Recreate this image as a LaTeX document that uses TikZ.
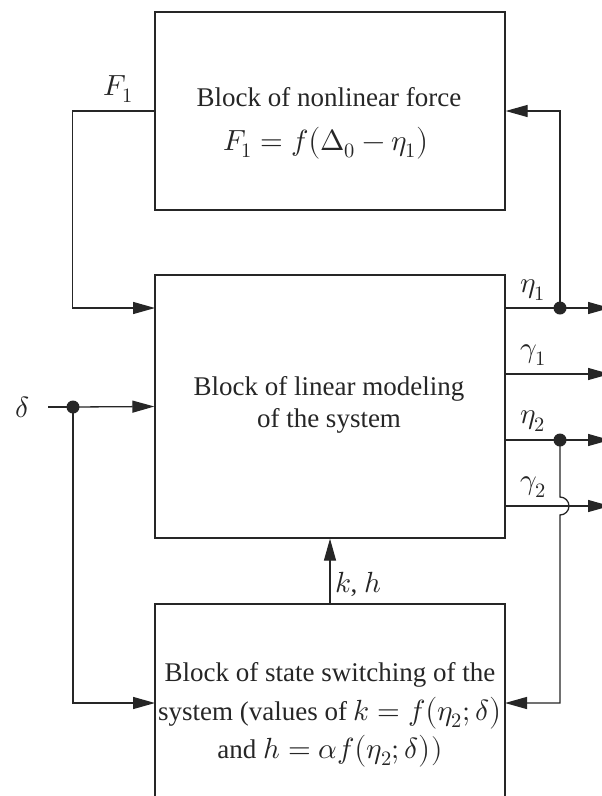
\documentclass[tikz,border=0pt]{standalone}
\usepackage{fontspec}
\usepackage{unicode-math}
\setmainfont{Liberation Serif}
\setmathfont{Latin Modern Math}[Scale=1.08]
\usetikzlibrary{arrows.meta}
\definecolor{ink}{HTML}{262626}
\tikzset{
  blk/.style={draw=ink, line width=1.3pt, minimum width=350pt, inner sep=0pt, rectangle},
  wire/.style={draw=ink, line width=1.3pt},
  arr/.style={wire, -{Triangle[length=22pt,width=12pt]}},
  jdot/.style={circle, fill=ink, minimum size=13pt, inner sep=0pt},
  txt/.style={text=ink, font=\fontsize{27}{32}\selectfont, inner sep=0pt},
}
\begin{document}
\begin{tikzpicture}[x=1pt,y=-1pt]
\useasboundingbox (0,0) rectangle (602,796);
\clip (0,0) rectangle (602,796);
\fill[white] (0,0) rectangle (602,796);
% blocks
\node[blk, minimum height=198pt] (top) at (330,111) {};
\node[blk, minimum height=263pt] (mid) at (330,406.5) {};
\node[blk, minimum height=220pt] (bot) at (330,714) {};
% texts
\node[txt] (t1) at (329,97) {Block of nonlinear force};
\node[txt] (t2) at (326,143) {$F_1 = f\bigl(\Delta_0 - \eta_1\bigr)$};
\node[txt] (m1) at (329,389) {Block of linear modeling};
\node[txt] (m2) at (329,421) {of the system};
\node[txt] (b1) at (330,675) {Block of state switching of the};
\node[txt] (b2) at (330,713) {system (values of $k = f\bigl(\eta_2;\delta\bigr)$};
\node[txt] (b3) at (330,751) {and $h = \alpha f\bigl(\eta_2;\delta\bigr))$};
% labels
\node[txt] (lF) at (118,89) {$F_1$};
\node[txt] (le1) at (533,290) {$\eta_1$};
\node[txt] (lg1) at (533,355) {$\gamma_1$};
\node[txt] (le2) at (533,421) {$\eta_2$};
\node[txt] (lg2) at (533,487) {$\gamma_2$};
\node[txt] (lkh) at (358,584) {$k$, $h$};
\node[txt] (ld) at (22,407) {$\delta$};
% ports
\coordinate (mIn1) at (155,308);
\coordinate (mO1) at (505,308);
\coordinate (mO2) at (505,374);
\coordinate (mO3) at (505,440);
\coordinate (mO4) at (505,506);
\coordinate (e1) at (610,308);
\coordinate (e2) at (610,374);
\coordinate (e3) at (610,440);
\coordinate (e4) at (610,506);
\coordinate (bIn1) at (155,703);
\coordinate (bIn2) at (505,703);
\coordinate (dS) at (48,407);
% junctions
\node[jdot] (d1) at (560,308) {};
\node[jdot] (d2) at (560,440) {};
\node[jdot] (dd) at (73,407) {};
% connectors
\draw[arr] (top.west) -- ++(-82,0) |- (mIn1);
\draw[wire] (mO1) -- (d1.center);
\draw[arr] (d1.center) -- (e1);
\draw[arr] (d1.center) |- (top.east);
\draw[arr] (mO2) -- (e2);
\draw[wire] (mO3) -- (d2.center);
\draw[arr] (d2.center) -- (e3);
\draw[arr] (mO4) -- (e4);
\draw[arr] (d2.center) -- (560,497) arc[start angle=-90, end angle=90, radius=9] |- (bIn2);
\draw[wire] (dS) -- (dd.center);
\draw[arr] (dd.center) -- (mid.west);
\draw[arr] (dd.center) |- (bIn1);
\draw[arr] (bot.north) -- (mid.south);
\end{tikzpicture}
\end{document}
